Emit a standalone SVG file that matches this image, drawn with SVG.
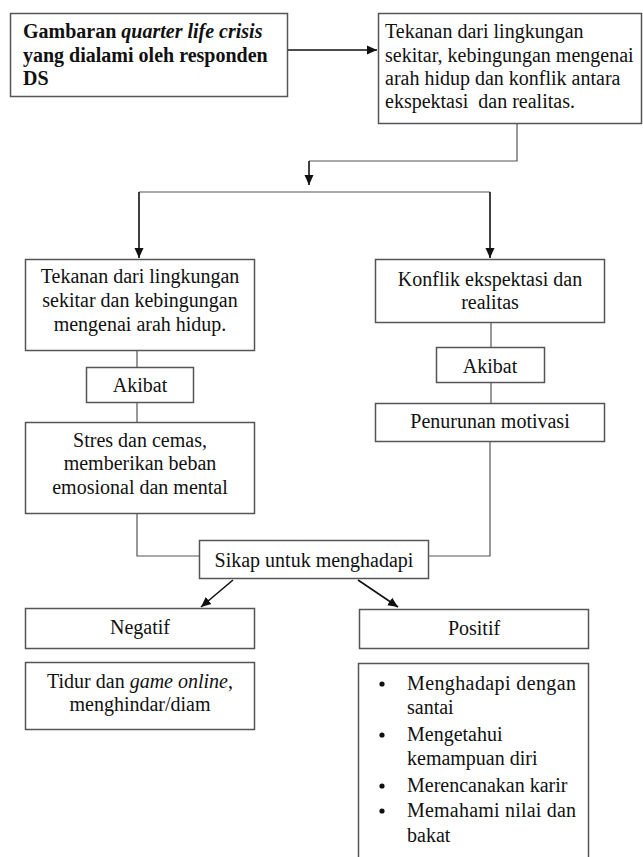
<svg xmlns="http://www.w3.org/2000/svg" width="643" height="857" viewBox="0 0 643 857">
<defs>
<marker id="ah" viewBox="0 0 10 10" refX="10" refY="5" markerWidth="10" markerHeight="10" markerUnits="userSpaceOnUse" orient="auto">
<path d="M0,0.5 L10,5 L0,9.5 Z" fill="#111"/>
</marker>
<style>
.box{fill:#fff;stroke:#555;stroke-width:1.5}
.t{font-family:"Liberation Serif","Times New Roman",serif;font-size:20px;fill:#111}
.c{text-anchor:middle}
.b{font-weight:bold}
.ar{fill:none;stroke:#111;stroke-width:1.6}
.ln{fill:none;stroke:#555;stroke-width:1.2}
</style>
</defs>
<rect width="643" height="857" fill="#fff"/>
<g id="connectors">
<path class="ar" d="M287,50 H377" marker-end="url(#ah)"/>
<path class="ln" d="M517,124 V161 H309"/>
<path class="ar" d="M309,161 V185" marker-end="url(#ah)"/>
<path class="ln" d="M139,192 H490"/>
<path class="ar" d="M139,192 V258" marker-end="url(#ah)"/>
<path class="ar" d="M490,192 V258" marker-end="url(#ah)"/>
<path class="ln" d="M137,351 V367 M137,402 V422 M137,514 V556 H199"/>
<path class="ln" d="M491,323 V347 M491,382 V403 M490,442 V556 H428"/>
<path class="ar" d="M233,580 L201,607" marker-end="url(#ah)"/>
<path class="ar" d="M358,580 L398,607" marker-end="url(#ah)"/>
</g>
<g id="n1">
<rect class="box" x="10.5" y="13.5" width="277" height="83"/>
<text class="t b" x="23" y="38">Gambaran <tspan font-style="italic">quarter life crisis</tspan></text>
<text class="t b" x="23" y="62">yang dialami oleh responden</text>
<text class="t b" x="23" y="85">DS</text>
</g>
<g id="n2">
<rect class="box" x="378.5" y="13.5" width="263" height="110"/>
<text class="t" x="385" y="38">Tekanan dari lingkungan</text>
<text class="t" x="385" y="62">sekitar, kebingungan mengenai</text>
<text class="t" x="385" y="85">arah hidup dan konflik antara</text>
<text class="t" x="385" y="108" xml:space="preserve">ekspektasi  dan realitas.</text>
</g>
<g id="n3">
<rect class="box" x="25.5" y="259.5" width="229" height="91"/>
<text class="t c" x="140" y="283">Tekanan dari lingkungan</text>
<text class="t c" x="140" y="307">sekitar dan kebingungan</text>
<text class="t c" x="140" y="331">mengenai arah hidup.</text>
</g>
<g id="n4">
<rect class="box" x="375.5" y="259.5" width="229" height="63"/>
<text class="t c" x="490" y="286">Konflik ekspektasi dan</text>
<text class="t c" x="490" y="309">realitas</text>
</g>
<g id="n5">
<rect class="box" x="86.5" y="367.5" width="107" height="35"/>
<text class="t c" x="140" y="392">Akibat</text>
</g>
<g id="n6">
<rect class="box" x="436.5" y="347.5" width="108" height="35"/>
<text class="t c" x="490" y="373">Akibat</text>
</g>
<g id="n7">
<rect class="box" x="25.5" y="422.5" width="229" height="91"/>
<text class="t c" x="140" y="447">Stres dan cemas,</text>
<text class="t c" x="140" y="470">memberikan beban</text>
<text class="t c" x="140" y="494">emosional dan mental</text>
</g>
<g id="n8">
<rect class="box" x="375.5" y="403.5" width="229" height="38"/>
<text class="t c" x="490" y="428">Penurunan motivasi</text>
</g>
<g id="n9">
<rect class="box" x="199.5" y="540.5" width="229" height="38"/>
<text class="t c" x="314" y="567">Sikap untuk menghadapi</text>
</g>
<g id="n10">
<rect class="box" x="25.5" y="608.5" width="229" height="40"/>
<text class="t c" x="140" y="634">Negatif</text>
</g>
<g id="n11">
<rect class="box" x="359.5" y="609.5" width="229" height="39"/>
<text class="t c" x="474" y="635">Positif</text>
</g>
<g id="n12">
<rect class="box" x="25.5" y="662.5" width="229" height="67"/>
<text class="t c" x="140" y="688">Tidur dan <tspan font-style="italic">game online</tspan>,</text>
<text class="t c" x="140" y="711">menghindar/diam</text>
</g>
<g id="n13">
<rect class="box" x="358.5" y="663.5" width="230" height="210"/>
<circle cx="382" cy="684" r="2.6" fill="#111"/>
<circle cx="382" cy="735" r="2.6" fill="#111"/>
<circle cx="382" cy="786" r="2.6" fill="#111"/>
<circle cx="382" cy="811" r="2.6" fill="#111"/>
<text class="t" x="407" y="690" textLength="169" lengthAdjust="spacing">Menghadapi dengan</text>
<text class="t" x="407" y="714">santai</text>
<text class="t" x="407" y="741">Mengetahui</text>
<text class="t" x="407" y="765">kemampuan diri</text>
<text class="t" x="407" y="792">Merencanakan karir</text>
<text class="t" x="407" y="817" textLength="169" lengthAdjust="spacing">Memahami nilai dan</text>
<text class="t" x="407" y="842">bakat</text>
</g>
</svg>
